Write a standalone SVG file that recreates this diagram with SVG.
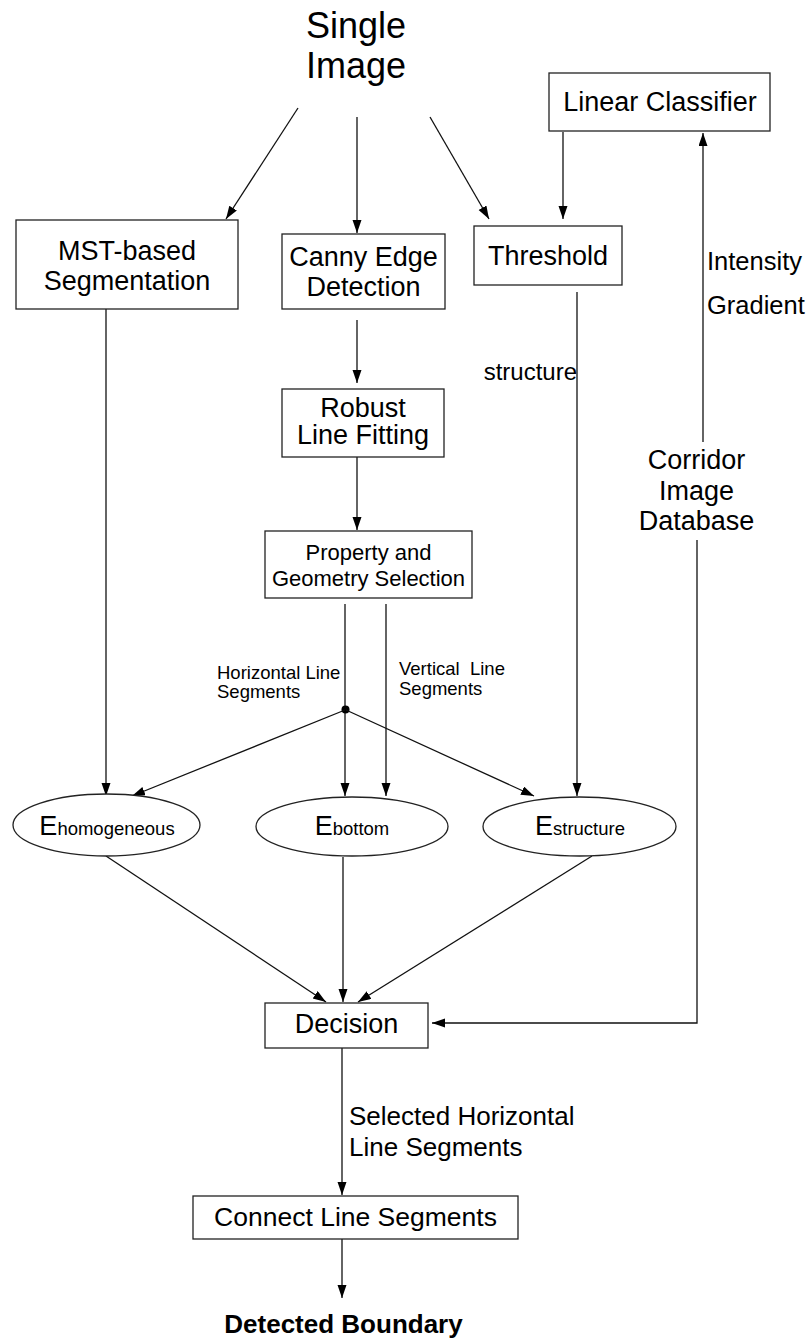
<svg xmlns="http://www.w3.org/2000/svg" width="807" height="1341" viewBox="0 0 807 1341">
<style>
text{font-family:"Liberation Sans",Arial,sans-serif;fill:#000}
.box{fill:#fff;stroke:#222;stroke-width:1.3}
.ell{fill:#fff;stroke:#222;stroke-width:1.3}
.c{fill:none;stroke:#111;stroke-width:1.3}
.a{marker-end:url(#ah)}
.lbl{font-size:27px;text-anchor:middle}
.sm{font-size:18.5px}
</style>
<defs>
<marker id="ah" markerUnits="userSpaceOnUse" markerWidth="14" markerHeight="10" refX="13" refY="4.5" orient="auto">
<path d="M0,0 L13,4.5 L0,9 z" fill="#000"/>
</marker>
</defs>
<rect width="807" height="1341" fill="#fff"/>

<g id="title">
<text x="356" y="38" style="font-size:36px;text-anchor:middle">Single</text>
<text x="356" y="78" style="font-size:36px;text-anchor:middle">Image</text>
</g>

<g id="connectors">
<line class="c a" x1="298" y1="108" x2="226" y2="219"/>
<line class="c a" x1="357" y1="117" x2="357" y2="233"/>
<line class="c a" x1="430" y1="117" x2="489" y2="219"/>
<line class="c a" x1="563" y1="132" x2="563" y2="219"/>
<line class="c a" x1="703" y1="442" x2="703" y2="133"/>
<polyline class="c a" points="697,540 697,1023 432,1023"/>
<line class="c a" x1="106" y1="309" x2="106" y2="796"/>
<line class="c a" x1="577" y1="292" x2="577" y2="796"/>
<line class="c a" x1="357" y1="320" x2="357" y2="383"/>
<line class="c a" x1="357" y1="457" x2="357" y2="530"/>
<line class="c a" x1="345" y1="604" x2="345" y2="796"/>
<line class="c a" x1="386" y1="604" x2="386" y2="796"/>
<circle cx="345.5" cy="709.5" r="4" fill="#000"/>
<line class="c a" x1="345" y1="710" x2="132" y2="796"/>
<line class="c a" x1="346" y1="710" x2="534" y2="796"/>
<line class="c a" x1="106" y1="856" x2="326" y2="1002"/>
<line class="c a" x1="343" y1="857" x2="343" y2="1002"/>
<line class="c a" x1="592" y1="856" x2="358" y2="1002"/>
<line class="c a" x1="342" y1="1048" x2="342" y2="1195"/>
<line class="c a" x1="342" y1="1239" x2="342" y2="1298"/>
<text x="577" y="380" style="font-size:24px;text-anchor:end">structure</text>
<text x="707" y="270" style="font-size:25.5px">Intensity</text>
<text x="707" y="314" style="font-size:25.5px">Gradient</text>
<text x="217" y="679" class="sm">Horizontal Line</text>
<text x="217" y="698" class="sm">Segments</text>
<text x="399" y="675" class="sm" xml:space="preserve">Vertical  Line</text>
<text x="399" y="695" class="sm">Segments</text>
<text x="349" y="1125" style="font-size:26px">Selected Horizontal</text>
<text x="349" y="1156" style="font-size:26px">Line Segments</text>
</g>

<g id="linear-classifier">
<rect class="box" x="549" y="73" width="221" height="58"/>
<text class="lbl" x="660" y="111">Linear Classifier</text>
</g>

<g id="mst">
<rect class="box" x="16" y="220" width="222" height="89"/>
<text class="lbl" x="127" y="260">MST-based</text>
<text class="lbl" x="127" y="290">Segmentation</text>
</g>

<g id="canny">
<rect class="box" x="282" y="234" width="163" height="75"/>
<text class="lbl" x="363.5" y="266">Canny Edge</text>
<text class="lbl" x="363.5" y="296">Detection</text>
</g>

<g id="threshold">
<rect class="box" x="474" y="226" width="148" height="59"/>
<text class="lbl" x="548" y="265">Threshold</text>
</g>

<g id="corridor-db">
<text class="lbl" x="696.5" y="469">Corridor</text>
<text class="lbl" x="696.5" y="500">Image</text>
<text class="lbl" x="696.5" y="530">Database</text>
</g>

<g id="robust">
<rect class="box" x="282" y="389" width="162" height="68"/>
<text class="lbl" x="363" y="417">Robust</text>
<text class="lbl" x="363" y="444">Line Fitting</text>
</g>

<g id="property">
<rect class="box" x="265" y="531" width="207" height="67"/>
<text x="368.5" y="560" style="font-size:22px;text-anchor:middle">Property and</text>
<text x="368.5" y="586" style="font-size:22px;text-anchor:middle">Geometry Selection</text>
</g>

<g id="e-homogeneous">
<ellipse class="ell" cx="106.5" cy="825" rx="93.5" ry="31"/>
<text x="107" y="835" style="text-anchor:middle"><tspan style="font-size:27px">E</tspan><tspan class="sm">homogeneous</tspan></text>
</g>

<g id="e-bottom">
<ellipse class="ell" cx="352" cy="826.5" rx="96" ry="29.5"/>
<text x="352" y="835" style="text-anchor:middle"><tspan style="font-size:27px">E</tspan><tspan class="sm">bottom</tspan></text>
</g>

<g id="e-structure">
<ellipse class="ell" cx="579.5" cy="826.5" rx="96.5" ry="29.5"/>
<text x="580" y="835" style="text-anchor:middle"><tspan style="font-size:27px">E</tspan><tspan class="sm">structure</tspan></text>
</g>

<g id="decision">
<rect class="box" x="265" y="1003" width="163" height="45"/>
<text class="lbl" x="346.5" y="1033">Decision</text>
</g>

<g id="connect">
<rect class="box" x="193" y="1196" width="325" height="43"/>
<text x="355.5" y="1226" style="font-size:26.5px;text-anchor:middle">Connect Line Segments</text>
</g>

<g id="detected-boundary">
<text x="343.5" y="1333" style="font-size:26px;font-weight:bold;text-anchor:middle">Detected Boundary</text>
</g>
</svg>
